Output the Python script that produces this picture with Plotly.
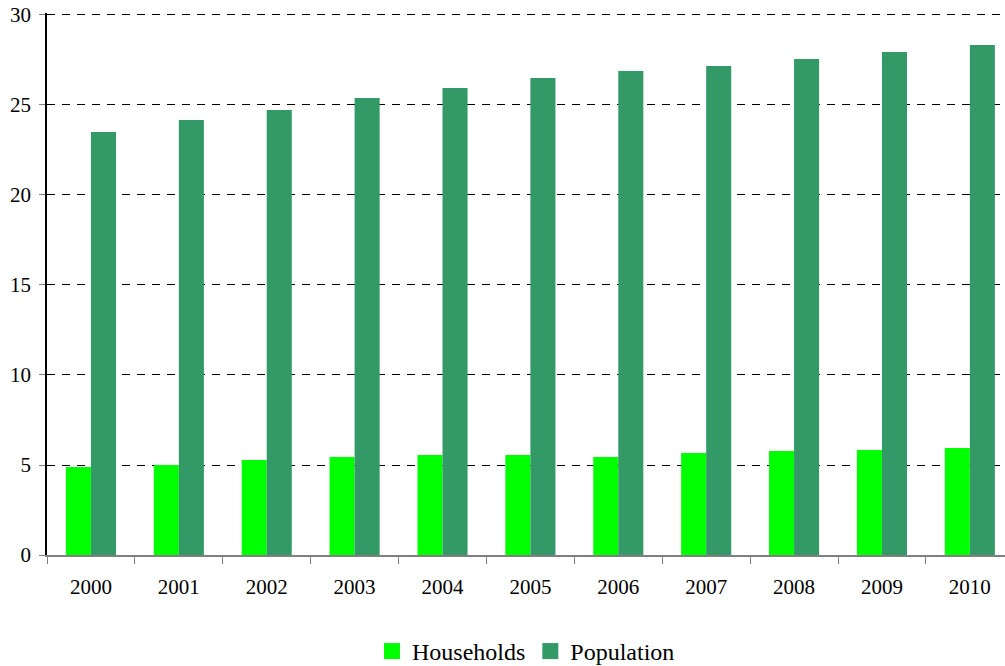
import plotly.graph_objects as go

years = ["2000", "2001", "2002", "2003", "2004", "2005", "2006", "2007", "2008", "2009", "2010"]
households = [4.89, 5.0, 5.28, 5.44, 5.56, 5.56, 5.44, 5.67, 5.78, 5.83, 5.94]
population = [23.5, 24.17, 24.72, 25.39, 25.94, 26.5, 26.89, 27.17, 27.56, 27.94, 28.33]
y_ticks = [0, 5, 10, 15, 20, 25, 30]

FONT = "Liberation Serif"
C_HH = "#00FF00"
C_POP = "#339966"

fig = go.Figure()
fig.add_trace(go.Bar(x=years, y=households, name="Households", marker_color=C_HH,
                     marker_line_width=0, showlegend=False))
fig.add_trace(go.Bar(x=years, y=population, name="Population", marker_color=C_POP,
                     marker_line_width=0, showlegend=False))
# legend entries with larger square swatches
fig.add_trace(go.Scatter(x=[None], y=[None], mode="markers", name="Households",
                         marker=dict(symbol="square", size=18, color=C_HH)))
fig.add_trace(go.Scatter(x=[None], y=[None], mode="markers", name="Population",
                         marker=dict(symbol="square", size=18, color=C_POP)))

fig.update_layout(
    width=1005, height=666,
    margin=dict(l=47, r=0, t=13, b=111, autoexpand=False),
    paper_bgcolor="white", plot_bgcolor="white",
    barmode="group", bargap=0.43, bargroupgap=0,
    font=dict(family=FONT, color="black", size=21),
    legend=dict(orientation="h", x=0.5, xanchor="center", y=-0.178, yanchor="middle",
                font=dict(size=24, family=FONT, color="black"), traceorder="normal",
                itemsizing="trace"),
    xaxis=dict(type="category", range=[-0.5, 10.4], showgrid=False, automargin=False,
               showline=True, linecolor="#808080", linewidth=1.5,
               ticks="outside", tickson="boundaries", ticklen=7, tickcolor="#808080",
               ticklabelstandoff=12,
               tickfont=dict(size=21, family=FONT, color="black")),
    yaxis=dict(range=[0, 30.11], tickvals=y_ticks, showgrid=True, gridcolor="black", gridwidth=1,
               griddash="8px,7px", showline=True, linecolor="black", linewidth=1.5,
               automargin=False, ticklabelstandoff=4,
               ticks="outside", ticklen=6, tickcolor="#808080", zeroline=False,
               tickfont=dict(size=21, family=FONT, color="black")),
)

fig.write_html("out.html", config={"displayModeBar": False},
               post_script="document.body.style.margin='0';document.body.style.padding='0';")
